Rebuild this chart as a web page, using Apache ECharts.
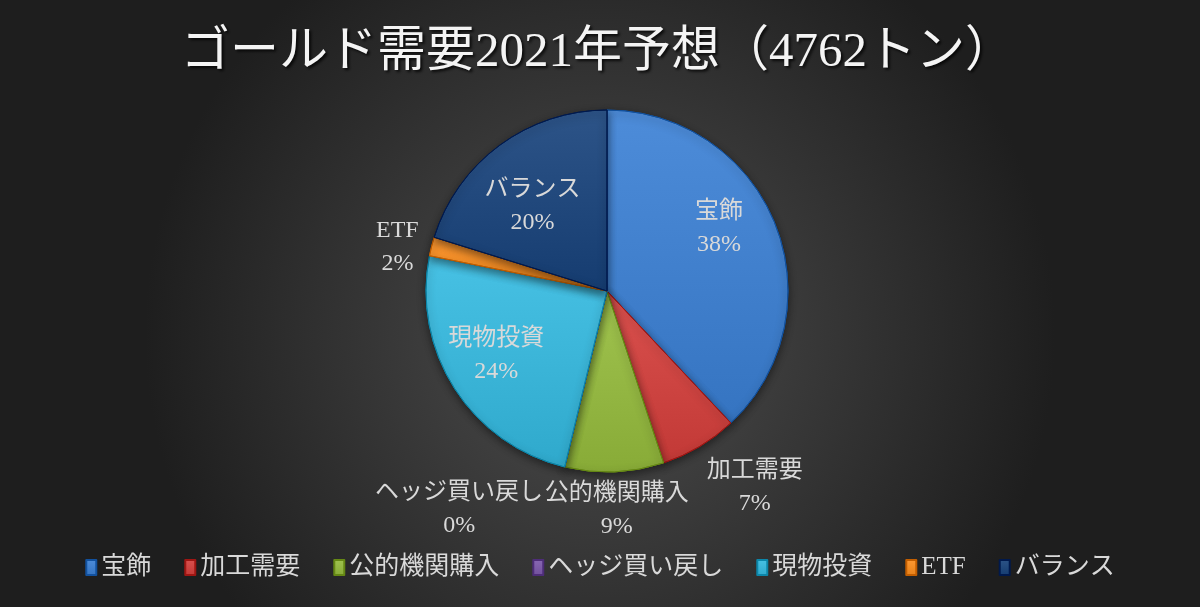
<!DOCTYPE html>
<html>
<head>
<meta charset="utf-8">
<script src="https://cdn.jsdelivr.net/npm/echarts@6/dist/echarts.min.js"></script>
<style>
  html, body { margin: 0; padding: 0; background: #2a2a2a; }
  #main { width: 1200px; height: 607px; }
</style>
</head>
<body>
<div id="main"></div>
<script>
// ゴールド需要 2021年予想（トン）
var categories = ['宝飾', '加工需要', '公的機関購入', 'ヘッジ買い戻し', '現物投資', 'ETF', 'バランス'];
var tonnes = [1810, 330, 420, 0, 1160, 80, 962];
var colors = ['#3f7ecb', '#cc4340', '#92b541', '#7b5aa6', '#39b3d6', '#f08b24', '#1f467a'];
// label nudges from the default inner spot (Excel puts some labels outside)
var labelShift = [[25, -28], [100, 116], [6, 126], [-126, 127], [-32, 14], [-119, -21], [-19, -10]];

var serif = "'Liberation Serif', 'Noto Sans CJK JP', serif";

var chart = echarts.init(document.getElementById('main'));
var option;

function shade(c, amt) {
  var n = parseInt(c.slice(1), 16);
  var r = Math.max(0, Math.min(255, (n >> 16) + amt));
  var g = Math.max(0, Math.min(255, ((n >> 8) & 255) + amt));
  var b = Math.max(0, Math.min(255, (n & 255) + amt));
  return 'rgb(' + r + ',' + g + ',' + b + ')';
}

var pieData = categories.map(function (name, i) {
  return {
    name: name,
    value: tonnes[i],
    itemStyle: {
      color: {
        type: 'linear', x: 0, y: 0, x2: 0, y2: 1,
        colorStops: [
          { offset: 0, color: shade(colors[i], 14) },
          { offset: 1, color: shade(colors[i], -10) }
        ]
      },
      borderColor: shade(colors[i], -45),
      borderWidth: 1
    }
  };
});

option = {
  backgroundColor: {
    type: 'radial', x: 0.5, y: 0.55, r: 0.75,
    colorStops: [
      { offset: 0, color: '#4e4e4e' },
      { offset: 1, color: '#1e1e1e' }
    ]
  },
  color: colors,
  title: {
    text: 'ゴールド需要2021年予想（4762トン）',
    left: 176,
    top: 24,
    textStyle: {
      color: '#f4f4f4',
      fontFamily: serif,
      fontSize: 49,
      fontWeight: 'normal',
      textShadowColor: 'rgba(0,0,0,0.8)',
      textShadowBlur: 3,
      textShadowOffsetX: 2,
      textShadowOffsetY: 2
    }
  },
  legend: {
    data: categories,
    bottom: 22,
    left: 'center',
    icon: 'rect',
    itemWidth: 10,
    itemHeight: 15,
    itemGap: 33,
    textStyle: {
      color: '#d9d9d9',
      fontFamily: serif,
      fontSize: 25
    }
  },
  series: [
    {
      type: 'pie',
      center: [607, 291],
      radius: 181,
      startAngle: 90,
      clockwise: true,
      avoidLabelOverlap: false,
      data: pieData,
      label: {
        show: true,
        position: 'inside',
        formatter: '{b}\n{d}%',
        color: '#d9d9d9',
        fontFamily: serif,
        fontSize: 24,
        lineHeight: 33
      },
      percentPrecision: 0,
      labelLine: { show: false },
      labelLayout: function (params) {
        var s = labelShift[params.dataIndex];
        return { dx: s[0], dy: s[1] };
      },
      emphasis: { disabled: true },
      itemStyle: {
        shadowColor: 'rgba(0,0,0,0.45)',
        shadowBlur: 8,
        shadowOffsetY: 3
      }
    }
  ]
};
option && chart.setOption(option);
</script>
</body>
</html>
